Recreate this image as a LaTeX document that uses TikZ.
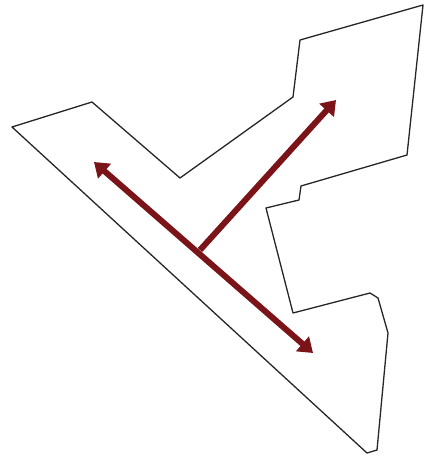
\documentclass[tikz,border=0pt]{standalone}
\usepackage{tikz}
\usetikzlibrary{arrows.meta}

\definecolor{darkred}{RGB}{122,20,24}

\begin{document}
\begin{tikzpicture}[x=1pt, y=-1pt]
\pgfmathsetmacro{\aw}{6}    % arrow width
% Drawing window
\useasboundingbox (0,0) rectangle (426,458);

% Outline
\draw[black!85, line width=1.3pt, line join=round]
  (12,127) -- (92,102) -- (180,178) -- (293,97) -- (300,40) -- (423,5)
  -- (407,155) -- (301,186) -- (299,200) -- (266,208)
  -- (293,313) -- (370,293) -- (378,298) -- (388,333) -- (377,450)
  -- (367,453) -- cycle;

% Arrow points
\coordinate (junction) at (200,250);
\coordinate (nwtip) at (94,162);
\coordinate (setip) at (313,353);
\coordinate (netip) at (336,100);

% Arrows
\draw[darkred, line width=\aw pt, {Triangle[length=14pt, width=19pt]}-{Triangle[length=14pt, width=19pt]}]
  (nwtip) -- (setip);
\draw[darkred, line width=\aw pt, -{Triangle[length=14pt, width=19pt]}]
  (junction) -- (netip);

\end{tikzpicture}
\end{document}
